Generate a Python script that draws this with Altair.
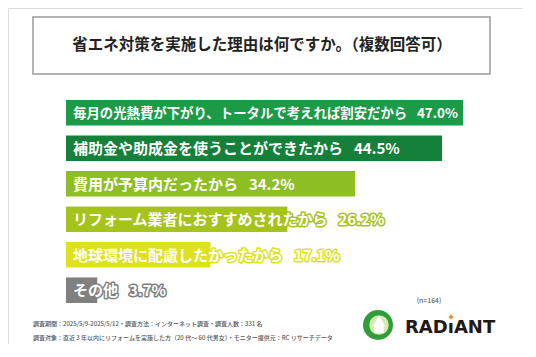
import altair as alt
import pandas as pd

categories = [
    "毎月の光熱費が下がり、トータルで考えれば割安だから",
    "補助金や助成金を使うことができたから",
    "費用が予算内だったから",
    "リフォーム業者におすすめされたから",
    "地球環境に配慮したかったから",
    "その他",
]
values = [47.0, 44.5, 34.2, 26.2, 17.1, 3.7]
palette = ["#1b9a48", "#148039", "#8dbf25", "#a6c31b", "#dde21c", "#808080"]

title_text = "省エネ対策を実施した理由は何ですか。（複数回答可）"
footer_lines = [
    "調査期間：2025/5/9-2025/5/12・調査方法：インターネット調査・調査人数：331 名",
    "調査対象：直近 3 年以内にリフォームを実施した方（20 代～ 60 代男女）・モニター提供元：RC リサーチデータ",
]
sample_note = "(n=164)"
brand = "RADıANT"

FONT = "Noto Sans CJK JP"
GAP = "\u2002\u00a0"

df = pd.DataFrame({"category": categories, "value": values})
df["label"] = [f"{c}{GAP}{v:.1f}%" for c, v in zip(categories, values)]

xs = alt.Scale(domain=[0, 50], range=[58, 58 + 50 * 8.45])
ys = alt.Scale(domain=categories, range=[92, 295], paddingInner=0.28, paddingOuter=0)
cs = alt.Scale(domain=categories, range=palette)

base = alt.Chart(df)
Y = alt.Y("category:N", scale=ys, axis=None, sort=categories)

bars = base.mark_bar(cornerRadius=0).encode(
    x=alt.X("value:Q", scale=xs, axis=None),
    x2=alt.datum(0),
    y=Y,
    color=alt.Color("category:N", scale=cs, legend=None),
)

fsize = alt.condition(alt.datum.value > 45, alt.value(13.4), alt.value(15))

outline = base.mark_text(
    align="left", baseline="middle", dx=7, dy=1, font=FONT, fontWeight="bold",
    fill="white", strokeWidth=3, strokeJoin="round",
).encode(
    x=alt.X(datum=0, scale=xs),
    y=Y,
    text="label:N",
    stroke=alt.Stroke("category:N", scale=cs, legend=None),
    size=fsize,
)

labels = base.mark_text(
    align="left", baseline="middle", dx=7, dy=1, font=FONT, fontWeight="bold",
    color="white",
).encode(
    x=alt.X(datum=0, scale=xs),
    y=Y,
    text="label:N",
    size=fsize,
)

one = pd.DataFrame({"k": [0]})
box = alt.Chart(one).mark_rect(fill="white", stroke="#9a9a9a", strokeWidth=1.5).encode(
    x=alt.value(25), x2=alt.value(482), y=alt.value(9), y2=alt.value(66)
)
title = alt.Chart(one).mark_text(
    text=title_text, font=FONT, fontWeight="bold", fontSize=15.5, color="#222222",
    align="center", baseline="middle",
).encode(x=alt.value(254), y=alt.value(37))

footer1 = alt.Chart(one).mark_text(
    text=footer_lines[0], font=FONT, fontSize=6.0, fontWeight=500, color="#555555",
    align="left", baseline="middle",
).encode(x=alt.value(25), y=alt.value(316))
footer2 = alt.Chart(one).mark_text(
    text=footer_lines[1], font=FONT, fontSize=6.0, fontWeight=500, color="#555555",
    align="left", baseline="middle",
).encode(x=alt.value(25), y=alt.value(330))

note = alt.Chart(one).mark_text(
    text=sample_note, font=FONT, fontSize=7, color="#444444", align="center", baseline="middle",
).encode(x=alt.value(421), y=alt.value(293))

logo_outer = alt.Chart(one).mark_point(shape="circle", filled=True, color="#2e9e3a", opacity=1).encode(
    x=alt.value(370), y=alt.value(317), size=alt.value(900)
)
logo_mid = alt.Chart(one).mark_point(shape="circle", filled=True, color="#d6ecb0", opacity=1).encode(
    x=alt.value(371), y=alt.value(317), size=alt.value(380)
)
logo_house = alt.Chart(one).mark_point(shape="triangle-up", filled=True, color="white", opacity=1).encode(
    x=alt.value(371), y=alt.value(313), size=alt.value(150)
)
logo_body = alt.Chart(one).mark_point(shape="square", filled=True, color="white", opacity=1).encode(
    x=alt.value(371), y=alt.value(320), size=alt.value(90)
)
brand_txt = alt.Chart(one).mark_text(
    text=brand, font="DejaVu Sans", fontWeight="bold", fontSize=18, color="#231815",
    align="left", baseline="middle",
).encode(x=alt.value(397), y=alt.value(320))
star = alt.Chart(one).mark_point(shape="diamond", filled=True, color="#f08c1e", opacity=1).encode(
    x=alt.value(443), y=alt.value(309), size=alt.value(25)
)

chart = alt.layer(
    box, title, bars, outline, labels, footer1, footer2, note,
    logo_outer, logo_mid, logo_house, logo_body, brand_txt, star,
).properties(
    width=515, height=336, autosize=alt.AutoSizeParams(type="none"), padding=0,
).configure_view(stroke=None).configure(background="white")

chart.save("out.html", embed_options={"renderer": "svg", "actions": False})
